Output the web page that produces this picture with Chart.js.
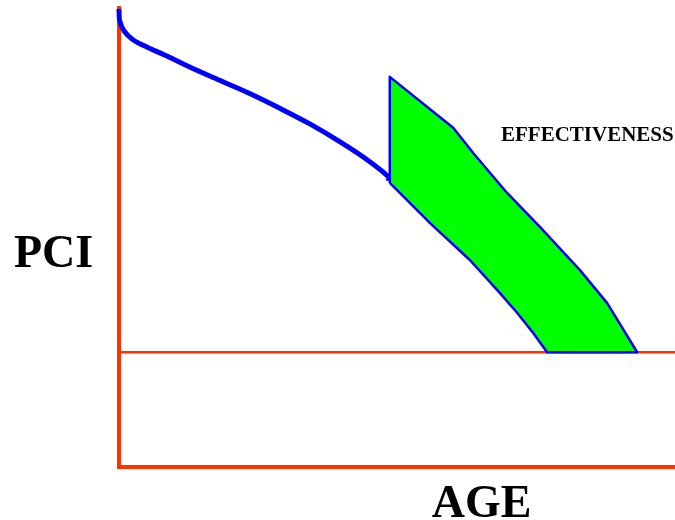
<!DOCTYPE html>
<html>
<head>
<meta charset="utf-8">
<script src="https://cdn.jsdelivr.net/npm/chart.js@4/dist/chart.umd.min.js"></script>
<style>
  html, body { margin: 0; padding: 0; background: #fff; }
  #wrap { width: 675px; height: 520px; position: relative; }
</style>
</head>
<body>
<div id="wrap"><canvas id="chart-pci"></canvas></div>
<script>
// deterioration curve (age vs PCI)
var curveAge = [0, 0.09, 0.9, 2.5, 5.0, 8.3, 12.8, 18.2, 23.6, 29.0, 34.4, 39.7, 44.2, 48.4, 48.5];
var curvePci = [99.8, 97.4, 95.0, 93.1, 91.5, 89.7, 87.1, 84.2, 81.3, 78.1, 74.7, 70.9, 67.3, 63.3, 62.4];

// treated band: upper edge (after treatment) and lower edge (without)
var upperAge = [48.7, 48.7, 60.1, 63.7, 69.8, 75.7, 82.9, 87.8, 93.2];
var upperPci = [61.9, 85.0, 73.9, 68.4, 59.7, 52.3, 42.9, 35.7, 25];
var lowerAge = [48.7, 55.9, 63.1, 68.0, 71.6, 74.5, 77.0];
var lowerPci = [61.9, 53.2, 45.1, 38.6, 33.6, 29.2, 25];

var thresholdPci = 25;
var ageRange = [0, 100];

var RED = '#ff3300';
var BLUE = '#0000ff';

function toPoints(xs, ys) {
    return xs.map(function(x, i) { return { x: x, y: ys[i] }; });
}

var band = toPoints(upperAge, upperPci).concat(toPoints(lowerAge, lowerPci).reverse());

var labelPlugin = {
    id: 'labels',
    afterDraw: function(chart) {
        var ctx = chart.ctx;
        ctx.save();
        ctx.fillStyle = '#000';
        ctx.textBaseline = 'alphabetic';
        ctx.textAlign = 'center';
        ctx.font = 'bold 46px "Liberation Serif", "Times New Roman", serif';
        ctx.fillText('PCI', 53.5, 267);
        ctx.fillText('AGE', 481.5, 517);
        ctx.textAlign = 'left';
        ctx.font = 'bold 21px "Liberation Serif", "Times New Roman", serif';
        ctx.fillText('EFFECTIVENESS', 501, 141);
        ctx.restore();
    }
};

document.addEventListener('DOMContentLoaded', function() {
    var canvas = document.getElementById('chart-pci');
    new Chart(canvas.getContext('2d'), {
        type: 'scatter',
        data: {
            datasets: [
                {
                    data: band,
                    showLine: true,
                    tension: 0,
                    fill: 'shape',
                    backgroundColor: '#00ff00',
                    borderColor: BLUE,
                    borderWidth: 2.5,
                    borderJoinStyle: 'round',
                    pointRadius: 0,
                    clip: false
                },
                {
                    data: toPoints(curveAge, curvePci),
                    showLine: true,
                    tension: 0.35,
                    borderColor: BLUE,
                    borderWidth: 5,
                    borderJoinStyle: 'round',
                    pointRadius: 0,
                    fill: false,
                    clip: false
                },
                {
                    data: toPoints(ageRange, [thresholdPci, thresholdPci]),
                    showLine: true,
                    borderColor: RED,
                    borderWidth: 2.5,
                    pointRadius: 0,
                    fill: false,
                    clip: false
                }
            ]
        },
        options: {
            responsive: true,
            maintainAspectRatio: false,
            animation: false,
            layout: { padding: { left: 119, right: 0, top: 8, bottom: 53 } },
            plugins: { legend: { display: false }, tooltip: { enabled: false } },
            scales: {
                x: {
                    min: 0, max: 100,
                    grid: { display: false, drawTicks: false },
                    ticks: { display: false },
                    border: { display: true, color: RED, width: 4 }
                },
                y: {
                    min: 0, max: 100,
                    grid: { display: false, drawTicks: false },
                    ticks: { display: false },
                    border: { display: true, color: RED, width: 4 }
                }
            }
        },
        plugins: [labelPlugin]
    });
});
</script>
</body>
</html>
